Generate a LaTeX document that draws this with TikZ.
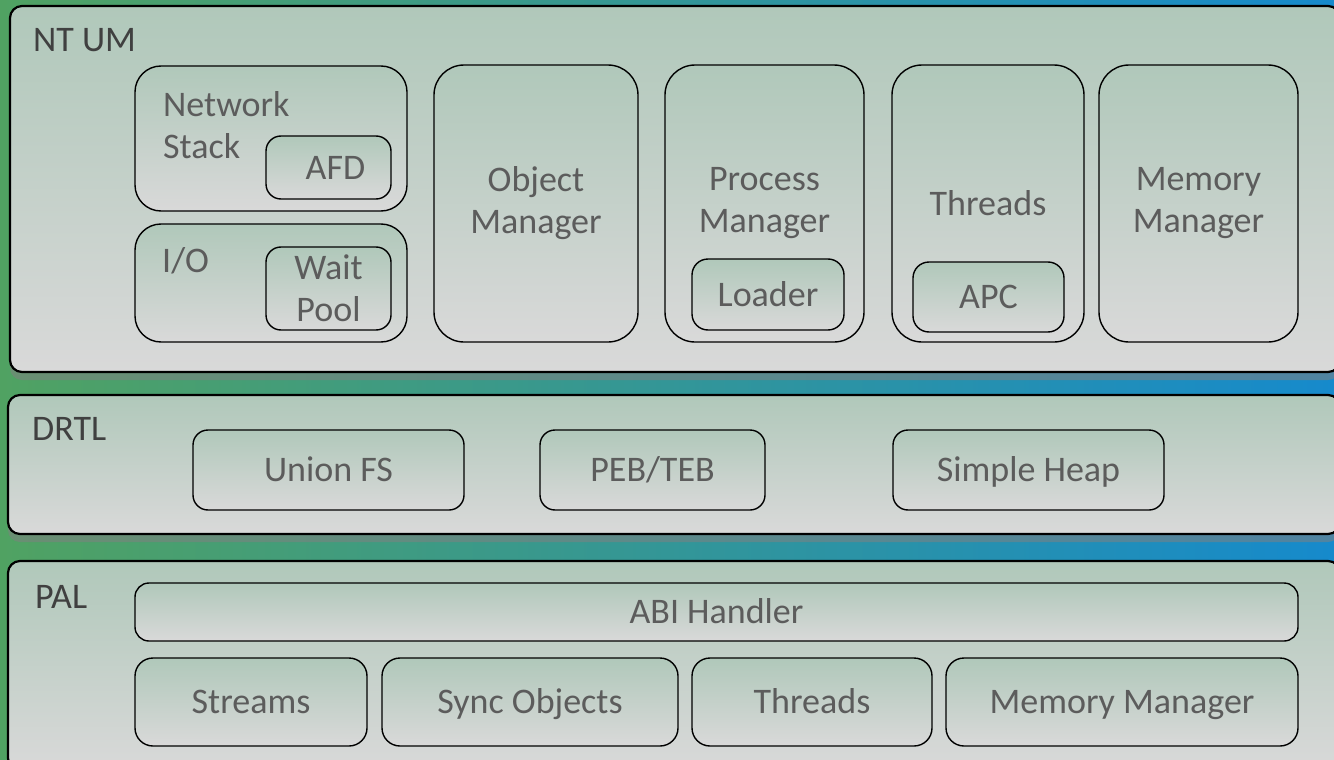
\documentclass[tikz,border=0pt]{standalone}
\usepackage{fontspec}
\setmainfont{Carlito}
\usepackage{tikz}
\usetikzlibrary{shadows}

\definecolor{bggreen}{RGB}{80,162,98}
\definecolor{bgteal}{RGB}{48,146,148}
\definecolor{bgblue}{RGB}{22,138,204}
\definecolor{boxtop}{RGB}{176,200,186}
\definecolor{boxbottom}{RGB}{217,217,217}
\definecolor{labelgray}{RGB}{92,92,92}
\definecolor{layergray}{RGB}{64,64,64}

\begin{document}
\begin{tikzpicture}[x=1pt, y=-1pt,
    layer/.style={draw=black, line width=2.2pt, rounded corners=12pt,
        top color=boxtop, bottom color=boxbottom, inner sep=0pt,
        drop shadow={shadow xshift=0pt, shadow yshift=-8pt, opacity=0.55}},
    part/.style={draw=black, line width=1.4pt, rounded corners=#1,
        top color=boxtop, bottom color=boxbottom, inner sep=0pt,
        text=labelgray, font=\fontsize{36}{42}\selectfont, align=center},
    part/.default=15pt,
    oneline/.style={text height=23pt, text depth=0pt},
    tag/.style={text=layergray, font=\fontsize{36}{42}\selectfont,
        inner sep=0pt, anchor=base west},
    note/.style={text=labelgray, font=\fontsize{36}{42}\selectfont,
        inner sep=0pt, align=left, anchor=base west}]
    \useasboundingbox (0,0) rectangle (1334,760);
    \shade[left color=bggreen, middle color=bgteal, right color=bgblue]
        (0,0) rectangle (1334,760);

    % Layers
    \node[layer, minimum width=1330pt, minimum height=366pt] (ntum) at (675,189) {};
    \node[layer, minimum width=1332pt, minimum height=139pt] (drtl) at (674,464.5) {};
    \node[layer, minimum width=1332pt, minimum height=209pt] (pal) at (674,665.5) {};
    \node[tag] (ntumtag) at (33,52) {NT UM};
    \node[tag] (drtltag) at (32,440) {DRTL};
    \node[tag] (paltag) at (35,608) {PAL};

    % NT UM: network stack and I/O
    \node[part=26pt, minimum width=272pt, minimum height=145pt] (netstack) at (271,138.5) {};
    \node[note] (netnote) at (163,158) {Network\\Stack};
    \node[part, oneline, minimum width=125pt, minimum height=63pt] (afd) at (328.5,167.5) {\hspace*{14pt}AFD};
    \node[part=26pt, minimum width=272pt, minimum height=118pt] (io) at (271,283) {};
    \node[note] (ionote) at (162,272) {I/O};
    \node[part, minimum width=125pt, minimum height=83pt] (waitpool) at (328.5,288.5) {Wait\\Pool};

    % NT UM: managers
    \node[part=30pt, minimum width=204pt, minimum height=277pt] (objmgr) at (536,203.5) {Object\\Manager};
    \node[part=30pt, minimum width=199pt, minimum height=277pt] (procmgr) at (764.5,203.5) {Process\\Manager};
    \node[part=16pt, oneline, minimum width=152pt, minimum height=71pt] (loader) at (768,294.5) {Loader};
    \node[part=30pt, oneline, minimum width=192pt, minimum height=277pt] (threads) at (988,203.5) {Threads};
    \node[part=16pt, oneline, minimum width=151pt, minimum height=70pt] (apc) at (988.5,297) {APC};
    \node[part=30pt, minimum width=199pt, minimum height=277pt] (memmgr) at (1198.5,203.5) {Memory\\Manager};

    % DRTL
    \node[part, oneline, minimum width=271pt, minimum height=80pt] (unionfs) at (328.5,470) {Union FS};
    \node[part, oneline, minimum width=225pt, minimum height=80pt] (pebteb) at (652.5,470) {PEB/TEB};
    \node[part, oneline, minimum width=271pt, minimum height=80pt] (simpleheap) at (1028.5,470) {Simple Heap};

    % PAL
    \node[part=14pt, oneline, minimum width=1163pt, minimum height=58pt] (abi) at (716.5,612) {ABI Handler};
    \node[part=18pt, oneline, minimum width=232pt, minimum height=88pt] (streams) at (251,702) {Streams};
    \node[part=18pt, oneline, minimum width=296pt, minimum height=88pt] (syncobj) at (530,702) {Sync Objects};
    \node[part=18pt, oneline, minimum width=240pt, minimum height=88pt] (palthreads) at (812,702) {Threads};
    \node[part=18pt, oneline, minimum width=352pt, minimum height=88pt] (palmemmgr) at (1122,702) {Memory Manager};
\end{tikzpicture}
\end{document}
